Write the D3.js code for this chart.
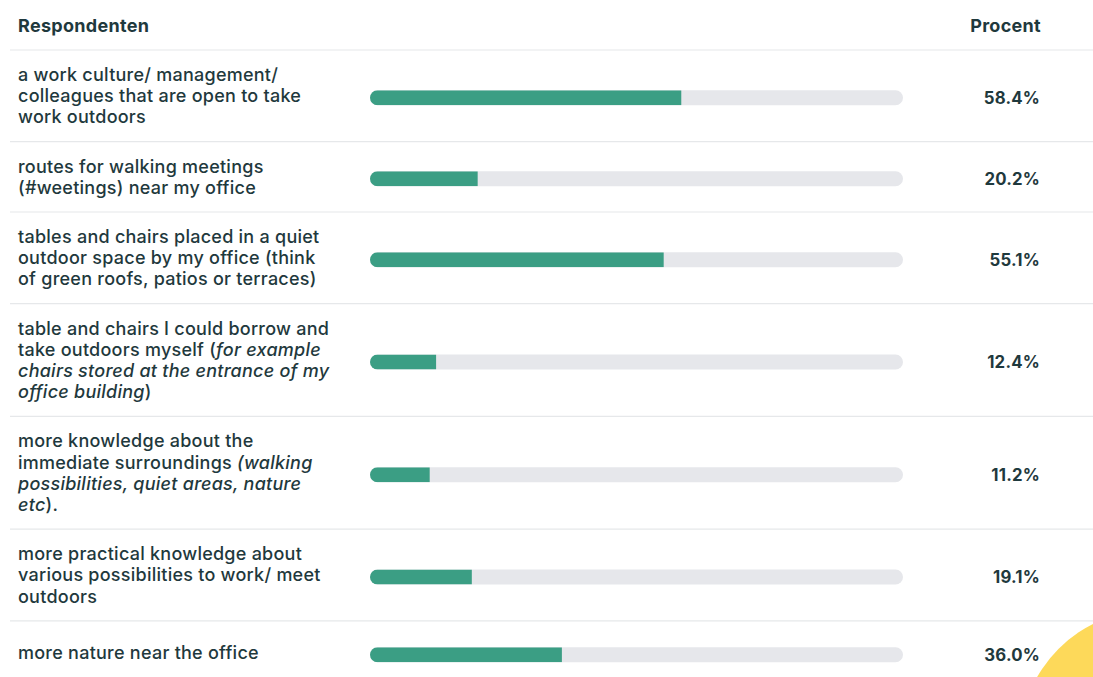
<!DOCTYPE html>
<html>
<head>
<meta charset="UTF-8">
<script src="https://d3js.org/d3.v7.min.js"></script>
<style>
  body { margin: 0; background: #fff; }
  svg { display: block; font-family: Inter, "Noto Sans", sans-serif; }
  .sep { stroke: #e6e8ea; stroke-width: 1.2; }
  .lbl { fill: #1f393d; font-size: 18px; font-weight: 500; letter-spacing: 0.25px; }
  .head { fill: #1f393d; font-size: 18px; font-weight: 700; letter-spacing: 0.3px; }
  .pct { fill: #1f393d; font-size: 16.8px; font-weight: 700; letter-spacing: 0.2px; }
</style>
</head>
<body>
<div id="chart"></div>
<script>
// labels: one string per line, *...* marks italic parts
var labels = [
  ["a work culture/ management/", "colleagues that are open to take", "work outdoors"],
  ["routes for walking meetings", "(#weetings) near my office"],
  ["tables and chairs placed in a quiet", "outdoor space by my office (think", "of green roofs, patios or terraces)"],
  ["table and chairs I could borrow and", "take outdoors myself (*for example*", "*chairs stored at the entrance of my*", "*office building*)"],
  ["more knowledge about the", "immediate surroundings *(walking*", "*possibilities, quiet areas, nature*", "*etc*)."],
  ["more practical knowledge about", "various possibilities to work/ meet", "outdoors"],
  ["more nature near the office"]
];
var values = [58.4, 20.2, 55.1, 12.4, 11.2, 19.1, 36.0];
var headers = ["Respondenten", "Procent"];

var W = 1093, H = 677;
var lineH = 21.2, pad = 28, minRow = 64;

var svg = d3.select("#chart").append("svg")
  .attr("width", W).attr("height", H);

var x = d3.scaleLinear().domain([0, 100]).range([370, 903]);
var barH = 15;

// header
svg.append("text").attr("class", "head").attr("x", 18).attr("y", 26)
  .attr("dy", "0.35em").text(headers[0]);
svg.append("text").attr("class", "head").attr("x", 1041).attr("y", 26)
  .attr("dy", "0.35em").attr("text-anchor", "end").text(headers[1]);

// row layout
var rowTop = 50;
var rows = labels.map(function(l, i) {
  var h = Math.max(minRow, l.length * lineH + pad);
  var r = { lines: l, value: values[i], top: rowTop, h: h };
  rowTop += h;
  return r;
});

var defs = svg.append("defs");

rows.forEach(function(r, i) {
  svg.append("line").attr("class", "sep")
    .attr("x1", 10).attr("x2", W).attr("y1", r.top).attr("y2", r.top);

  var mid = r.top + r.h / 2;
  var y0 = mid - (r.lines.length * lineH) / 2 + lineH / 2;

  var t = svg.append("text").attr("class", "lbl");
  r.lines.forEach(function(line, k) {
    var parts = line.split("*");
    var first = true;
    parts.forEach(function(p, j) {
      if (!p) return;
      var ts = t.append("tspan").text(p)
        .style("font-style", j % 2 ? "italic" : "normal");
      if (first) {
        ts.attr("x", 18).attr("y", y0 + k * lineH).attr("dy", "0.35em");
        first = false;
      }
    });
  });

  var by = mid + 2 - barH / 2;
  defs.append("clipPath").attr("id", "clip" + i)
    .append("rect").attr("x", x(0)).attr("y", by)
    .attr("width", x(100) - x(0)).attr("height", barH).attr("rx", barH / 2);

  svg.append("rect").attr("x", x(0)).attr("y", by)
    .attr("width", x(100) - x(0)).attr("height", barH)
    .attr("rx", barH / 2).attr("fill", "#e6e7eb");
  svg.append("rect").attr("x", x(0)).attr("y", by)
    .attr("width", x(r.value) - x(0)).attr("height", barH)
    .attr("fill", "#3b9e84").attr("clip-path", "url(#clip" + i + ")");

  svg.append("text").attr("class", "pct").attr("x", 1040).attr("y", mid + 2)
    .attr("dy", "0.35em").attr("text-anchor", "end")
    .text(r.value.toFixed(1) + "%");
});

// yellow decoration bottom right
svg.append("circle").attr("cx", 1152).attr("cy", 742).attr("r", 132)
  .attr("fill", "#fdd95a");
</script>
</body>
</html>
